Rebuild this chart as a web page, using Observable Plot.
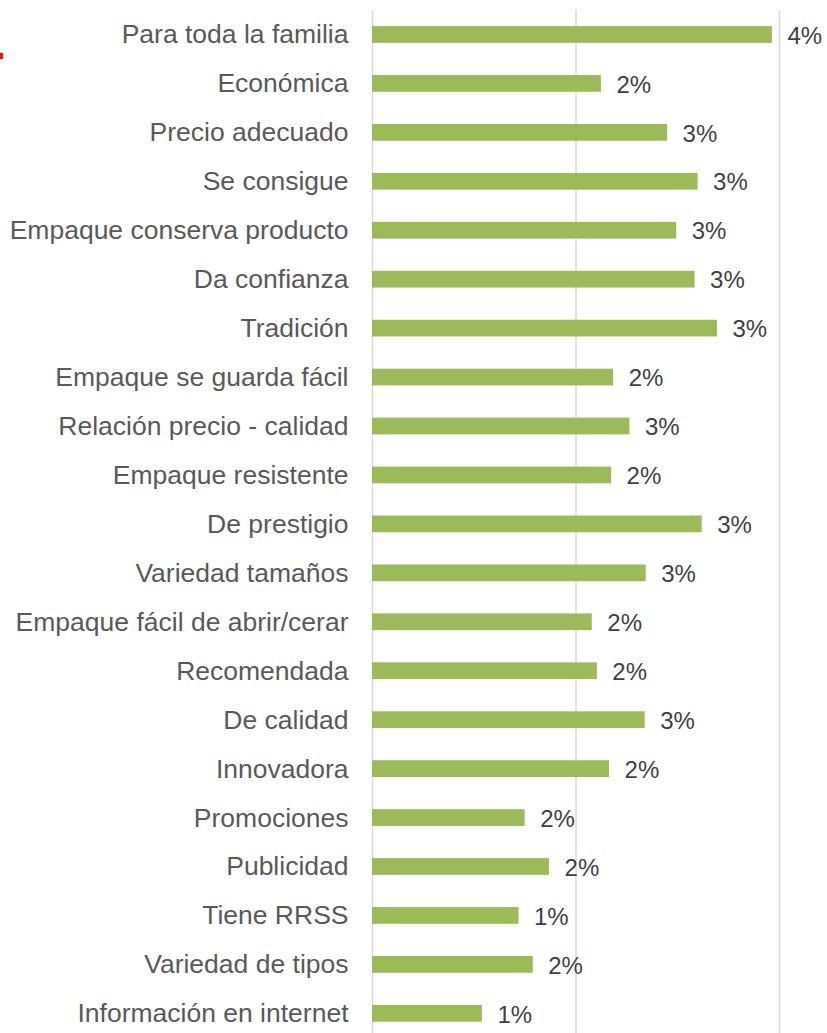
<!DOCTYPE html>
<html>
<head>
<meta charset="utf-8">
<script src="https://cdn.jsdelivr.net/npm/d3@7"></script>
<script src="https://cdn.jsdelivr.net/npm/@observablehq/plot@0.6"></script>
<style>
  html, body { margin: 0; padding: 0; background: #ffffff; }
  #chart { position: relative; width: 827px; height: 1033px; overflow: hidden; }
  #chart svg { display: block; }
  .mark { position: absolute; left: 0; top: 53px; width: 3px; height: 6px; background: #ff0000; }
</style>
</head>
<body>
<div id="chart"><div class="mark"></div></div>
<script>
const categories = [
  "Para toda la familia", "Económica", "Precio adecuado", "Se consigue",
  "Empaque conserva producto", "Da confianza", "Tradición", "Empaque se guarda fácil",
  "Relación precio - calidad", "Empaque resistente", "De prestigio", "Variedad tamaños",
  "Empaque fácil de abrir/cerar", "Recomendada", "De calidad", "Innovadora",
  "Promociones", "Publicidad", "Tiene RRSS", "Variedad de tipos", "Información en internet"
];
const values = [
  0.0393, 0.0225, 0.0290, 0.0320,
  0.0299, 0.0317, 0.0339, 0.0237,
  0.0253, 0.0235, 0.0324, 0.0269,
  0.0216, 0.0221, 0.0268, 0.0233,
  0.0150, 0.0174, 0.0144, 0.0158, 0.0108
];
const valueLabels = [
  "4%", "2%", "3%", "3%",
  "3%", "3%", "3%", "2%",
  "3%", "2%", "3%", "3%",
  "2%", "2%", "3%", "2%",
  "2%", "2%", "1%", "2%", "1%"
];
const gridTicks = [0, 0.02, 0.04];

const data = categories.map((c, i) => ({category: c, value: values[i], label: valueLabels[i]}));

const chart = Plot.plot({
  width: 827,
  height: 1033,
  marginLeft: 372,
  marginRight: 48,
  marginTop: 10,
  marginBottom: 0,
  x: {domain: [0, 0.04], axis: null},
  y: {domain: categories, range: [10, 1037.8], padding: 0, round: false, axis: null},
  style: {fontFamily: "'Liberation Sans', Arial, sans-serif", background: "#ffffff"},
  marks: [
    Plot.ruleX(gridTicks, {stroke: "#d9d9d9", strokeWidth: 1.5}),
    Plot.barX(data, {x: "value", y: "category", fill: "#9BBB59", insetTop: 16.1, insetBottom: 16.1}),
    Plot.text(data, {x: "value", y: "category", text: "label", dx: 15, dy: 1, textAnchor: "start", fontSize: 24, fill: "#404040"}),
    Plot.text(data, {x: 0, y: "category", text: "category", dx: -24, textAnchor: "end", fontSize: 26.5, fill: "#595959"})
  ]
});
document.getElementById("chart").appendChild(chart);
</script>
</body>
</html>
